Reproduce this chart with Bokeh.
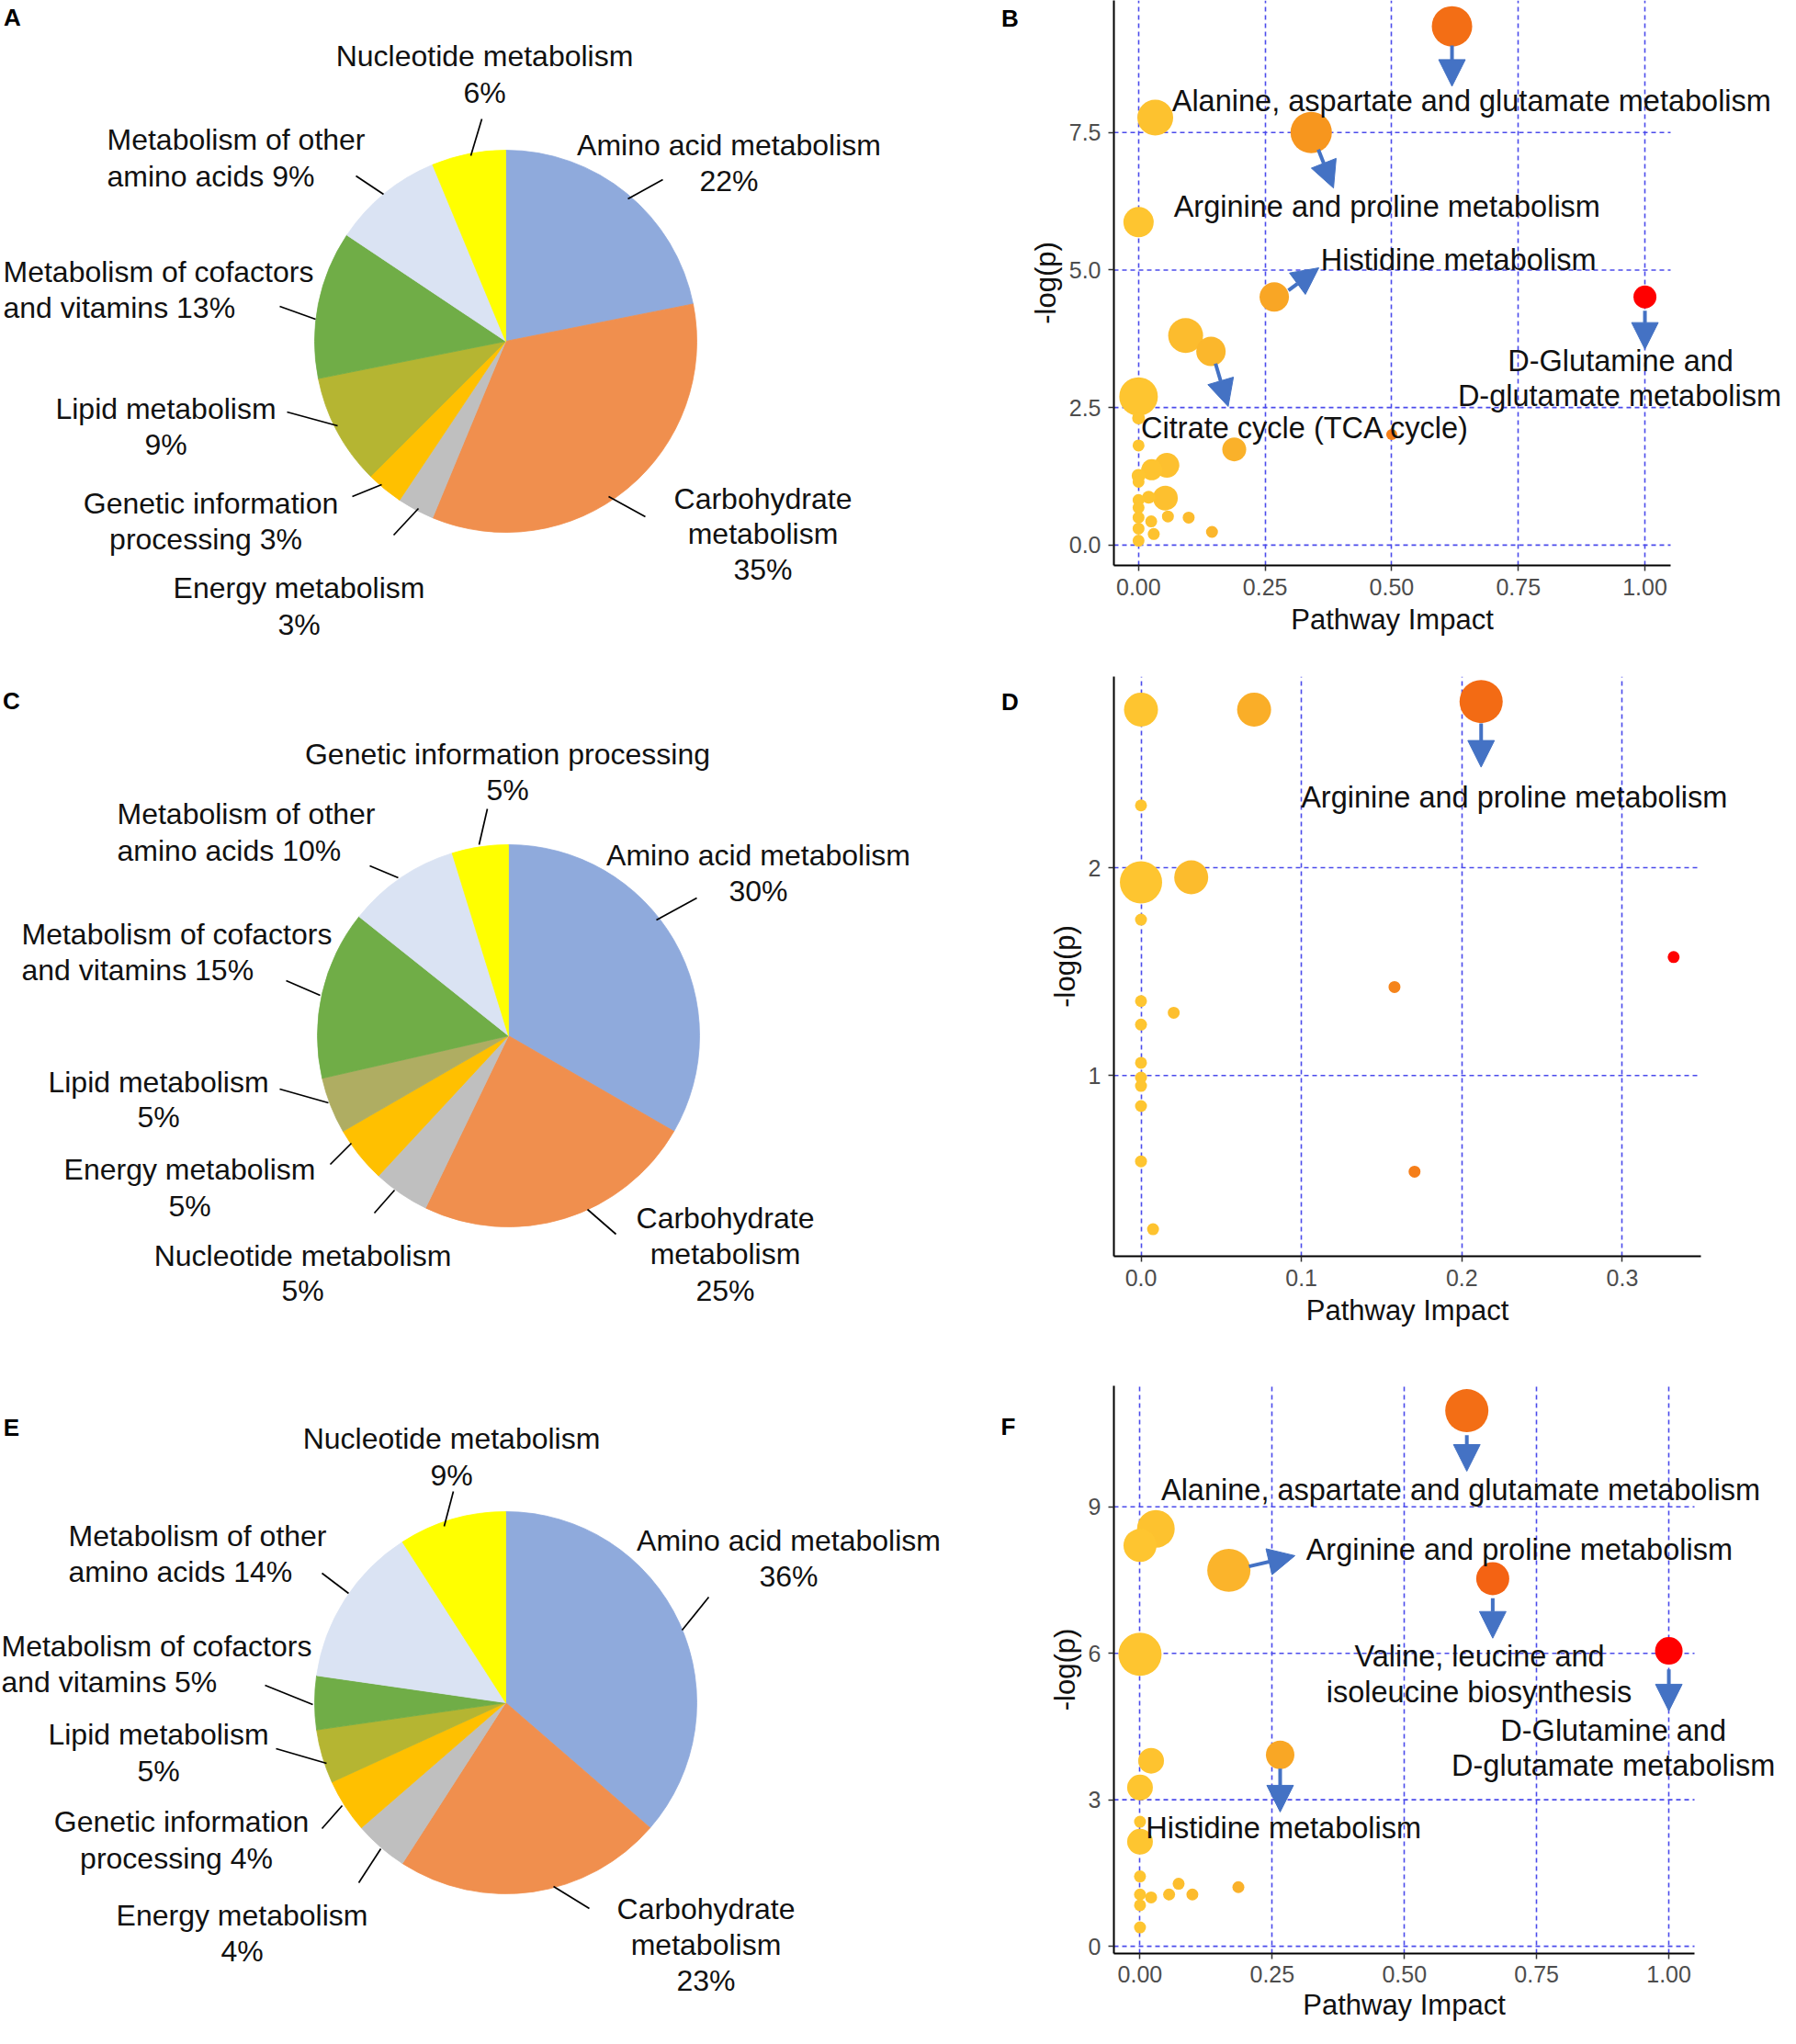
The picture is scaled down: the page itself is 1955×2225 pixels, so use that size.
import numpy as np
from bokeh.plotting import figure
from bokeh.models import (ColumnDataSource, Range1d, FixedTicker, Arrow, NormalHead,
                          Label, Title, CustomJSTickFormatter)
from bokeh.layouts import row, column
from bokeh.embed import file_html
from bokeh.resources import INLINE
from bokeh.core.properties import value
from bokeh.transform import linear_cmap

FONT = "Liberation Sans"

# ---------------- colours ----------------
BLUE = "#8FAADC"
ORANGE = "#F08F4E"
GRAY = "#BFBFBF"
AMBER = "#FFC000"
OLIVE = "#B5B532"
OLIVE2 = "#AFAD62"
GREEN = "#70AD47"
LIGHT = "#DAE3F3"
YELLOW = "#FFFF00"
ARROW_BLUE = "#4472C4"
GRID_BLUE = "#4B4BEB"

# ---------------- pie data (pathway counts per class) ----------------
pie_A_classes = ["Amino acid metabolism", "Carbohydrate metabolism", "Energy metabolism",
                 "Genetic information processing", "Lipid metabolism",
                 "Metabolism of cofactors and vitamins", "Metabolism of other amino acids",
                 "Nucleotide metabolism"]
pie_A_counts = [7, 11, 1, 1, 3, 4, 3, 2]
pie_A_colors = [BLUE, ORANGE, GRAY, AMBER, OLIVE, GREEN, LIGHT, YELLOW]

pie_C_classes = ["Amino acid metabolism", "Carbohydrate metabolism", "Nucleotide metabolism",
                 "Energy metabolism", "Lipid metabolism",
                 "Metabolism of cofactors and vitamins", "Metabolism of other amino acids",
                 "Genetic information processing"]
pie_C_counts = [7, 5, 1, 1, 1, 3, 2, 1]
pie_C_colors = [BLUE, ORANGE, GRAY, AMBER, OLIVE2, GREEN, LIGHT, YELLOW]

pie_E_classes = ["Amino acid metabolism", "Carbohydrate metabolism", "Energy metabolism",
                 "Genetic information processing", "Lipid metabolism",
                 "Metabolism of cofactors and vitamins", "Metabolism of other amino acids",
                 "Nucleotide metabolism"]
pie_E_counts = [8, 5, 1, 1, 1, 1, 3, 2]
pie_E_colors = [BLUE, ORANGE, GRAY, AMBER, OLIVE, GREEN, LIGHT, YELLOW]

# pie label lines: (text, x, y, align) in page pixels
pie_A_text = [
    ("Nucleotide metabolism", 535, 68, "center"), ("6%", 535, 108, "center"),
    ("Amino acid metabolism", 801, 165, "center"), ("22%", 801, 204, "center"),
    ("Metabolism of other", 124, 159, "left"), ("amino acids  9%", 124, 199, "left"),
    ("Metabolism of cofactors", 11, 303, "left"), ("and vitamins  13%", 11, 342, "left"),
    ("Lipid metabolism", 188, 452, "center"), ("9%", 188, 491, "center"),
    ("Genetic information", 237, 555, "center"), ("processing  3%", 236, 594, "center"),
    ("Energy metabolism", 333, 647, "center"), ("3%", 333, 687, "center"),
    ("Carbohydrate", 838, 550, "center"), ("metabolism", 838, 588, "center"), ("35%", 838, 627, "center"),
]
pie_C_text = [
    ("Genetic information processing", 560, 828, "center"), ("5%", 560, 867, "center"),
    ("Amino acid metabolism", 833, 938, "center"), ("30%", 833, 977, "center"),
    ("Metabolism of other", 135, 893, "left"), ("amino acids  10%", 135, 933, "left"),
    ("Metabolism of cofactors", 31, 1024, "left"), ("and vitamins  15%", 31, 1063, "left"),
    ("Lipid metabolism", 180, 1185, "center"), ("5%", 180, 1223, "center"),
    ("Energy metabolism", 214, 1280, "center"), ("5%", 214, 1320, "center"),
    ("Nucleotide metabolism", 337, 1374, "center"), ("5%", 337, 1412, "center"),
    ("Carbohydrate", 797, 1333, "center"), ("metabolism", 797, 1372, "center"), ("25%", 797, 1412, "center"),
]
pie_E_text = [
    ("Nucleotide metabolism", 499, 1573, "center"), ("9%", 499, 1613, "center"),
    ("Amino acid metabolism", 866, 1684, "center"), ("36%", 866, 1723, "center"),
    ("Metabolism of other", 82, 1679, "left"), ("amino acids  14%", 82, 1718, "left"),
    ("Metabolism of cofactors", 9, 1799, "left"), ("and vitamins  5%", 9, 1838, "left"),
    ("Lipid metabolism", 180, 1895, "center"), ("5%", 180, 1935, "center"),
    ("Genetic information", 205, 1990, "center"), ("processing  4%", 204, 2030, "center"),
    ("Energy metabolism", 271, 2092, "center"), ("4%", 271, 2131, "center"),
    ("Carbohydrate", 776, 2085, "center"), ("metabolism", 776, 2124, "center"), ("23%", 776, 2163, "center"),
]
# leader lines (x0, y0, x1, y1) in page pixels
pie_A_leaders = [(532, 137, 520, 177), (729, 203, 691, 224), (395, 199, 425, 219),
                 (312, 341, 351, 355), (320, 456, 375, 471), (391, 548, 423, 535),
                 (436, 590, 463, 561), (670, 548, 710, 570)]
pie_C_leaders = [(538, 888, 529, 927), (766, 985, 722, 1009), (410, 950, 441, 963),
                 (319, 1075, 356, 1091), (312, 1193, 365, 1208), (367, 1275, 390, 1252),
                 (415, 1328, 437, 1303), (647, 1324, 678, 1351)]
pie_E_leaders = [(501, 1631, 491, 1669), (779, 1746, 750, 1782), (358, 1720, 387, 1742),
                 (296, 1842, 348, 1863), (308, 1911, 363, 1927), (358, 1998, 380, 1973),
                 (398, 2057, 422, 2020), (610, 2061, 649, 2085)]
pie_centers = {"A": (558, 379), "C": (561, 1135), "E": (558, 1861)}
PIE_R = 208

# panel letters (text, x, y) in page pixels
panel_letters = [("A", 21, 26), ("C", 20, 770), ("E", 20, 1561),
                 ("B", 1107, 27), ("D", 1107, 771), ("F", 1105, 1560)]

# ---------------- pathway impact data ----------------
B_impact = [0.619, 0.033, 0.341, 0.0, 0.268, 1.0, 0.093, 0.143, 0.0, 0.0, 0.5, 0.189, 0.0,
            0.056, 0.026, 0.0, 0.0, 0.053, 0.02, 0.0, 0.0, 0.0, 0.058, 0.099, 0.025, 0.0,
            0.03, 0.145, 0.0]
B_logp = [9.43, 7.77, 7.50, 5.87, 4.51, 4.51, 3.81, 3.52, 2.70, 2.31, 2.01, 1.74, 1.81,
          1.45, 1.37, 1.26, 1.15, 0.855, 0.87, 0.82, 0.68, 0.50, 0.52, 0.50, 0.43, 0.30,
          0.20, 0.24, 0.08]
B_size = [44, 39, 45, 33, 32, 25, 38, 32, 42, 14, 12, 26, 13, 27, 23, 15, 13, 27, 14, 13,
          13, 13, 13, 13, 13, 13, 13, 13, 13]

D_impact = [0.0, 0.0705, 0.212, 0.0, 0.0, 0.0313, 0.0, 0.332, 0.158, 0.0, 0.0204, 0.0,
            0.0, 0.0, 0.0, 0.0, 0.0, 0.1705, 0.0075]
D_logp = [2.761, 2.761, 2.80, 2.30, 1.93, 1.954, 1.75, 1.57, 1.426, 1.358, 1.302, 1.245,
          1.061, 0.99, 0.95, 0.853, 0.587, 0.537, 0.26]
D_size = [37, 37, 47, 13, 46, 37, 13, 13, 13, 13, 13, 13, 13, 13, 13, 13, 13, 13, 13]

F_impact = [0.618, 0.030, 0.0, 0.168, 0.667, 1.0, 0.0, 0.265, 0.021, 0.0, 0.0, 0.0, 0.0,
            0.0, 0.0, 0.021, 0.055, 0.073, 0.099, 0.186, 0.0]
F_logp = [10.97, 8.55, 8.21, 7.70, 7.53, 6.05, 5.98, 3.92, 3.80, 3.25, 2.55, 2.14, 1.43,
          1.06, 0.84, 1.00, 1.06, 1.28, 1.06, 1.21, 0.385]
F_size = [47, 41, 36, 47, 36, 30, 47, 31, 28, 28, 13, 28, 13, 13, 13, 13, 13, 13, 13, 13, 13]

B_xticks, B_xlabels = [0, 0.25, 0.5, 0.75, 1.0], ["0.00", "0.25", "0.50", "0.75", "1.00"]
B_yticks, B_ylabels = [0, 2.5, 5.0, 7.5], ["0.0", "2.5", "5.0", "7.5"]
D_xticks, D_xlabels = [0, 0.1, 0.2, 0.3], ["0.0", "0.1", "0.2", "0.3"]
D_yticks, D_ylabels = [1, 2], ["1", "2"]
F_xticks, F_xlabels = [0, 0.25, 0.5, 0.75, 1.0], ["0.00", "0.25", "0.50", "0.75", "1.00"]
F_yticks, F_ylabels = [0, 3, 6, 9], ["0", "3", "6", "9"]
X_TITLE = "Pathway Impact"
Y_TITLE = "-log(p)"

# annotations in data units: (text, x, y, align)
B_notes = [("Alanine, aspartate and glutamate metabolism", 0.066, 8.07, "left"),
           ("Arginine and proline metabolism", 0.0695, 6.15, "left"),
           ("Histidine metabolism", 0.36, 5.19, "left"),
           ("D-Glutamine and", 0.952, 3.34, "center"),
           ("D-glutamate metabolism", 0.950, 2.71, "center"),
           ("Citrate cycle (TCA cycle)", 0.005, 2.13, "left")]
B_arrows = [(0.619, 9.08, 0.619, 8.34), (0.355, 7.19, 0.385, 6.49), (0.296, 4.63, 0.356, 5.04),
            (1.0, 4.26, 1.0, 3.56), (0.152, 3.30, 0.177, 2.52)]
D_notes = [("Arginine and proline metabolism", 0.0997, 2.34, "left")]
D_arrows = [(0.212, 2.694, 0.212, 2.484)]
F_notes = [("Alanine, aspartate and glutamate metabolism", 0.04, 9.35, "left"),
           ("Arginine and  proline metabolism", 0.314, 8.13, "left"),
           ("Valine, leucine and", 0.642, 5.94, "center"),
           ("isoleucine biosynthesis", 0.641, 5.20, "center"),
           ("D-Glutamine and", 0.895, 4.41, "center"),
           ("D-glutamate metabolism", 0.895, 3.69, "center"),
           ("Histidine metabolism", 0.011, 2.42, "left")]
F_arrows = [(0.618, 10.47, 0.618, 9.73), (0.206, 7.78, 0.293, 8.0), (0.667, 7.13, 0.667, 6.31),
            (1.0, 5.67, 1.0, 4.82), (0.265, 3.64, 0.265, 2.75)]

# colour scale for impact (low = gold, high = red)
stops_t = [0.0, 0.15, 0.27, 0.34, 0.5, 0.64, 1.0]
stops_rgb = [(254, 197, 48), (251, 182, 44), (249, 166, 37), (247, 150, 30),
             (245, 128, 26), (243, 107, 20), (255, 0, 0)]
_tt = np.linspace(0, 1, 256)
PALETTE = []
for t in _tt:
    r = np.interp(t, stops_t, [c[0] for c in stops_rgb])
    g = np.interp(t, stops_t, [c[1] for c in stops_rgb])
    b = np.interp(t, stops_t, [c[2] for c in stops_rgb])
    PALETTE.append("#%02x%02x%02x" % (int(round(r)), int(round(g)), int(round(b))))

# ---------------- page geometry (page pixels incl. 8px margin) ----------------
PAGE_TOP = 8
PAGE_BOTTOM = 2216
LEFT_X0, SPLIT_X = 8, 1120
RIGHT_X1 = 1947
X_TITLE_SIZE = 31
X_TITLE_HALF_WIDTH = 0.5 * 7.114 * X_TITLE_SIZE   # Arial/Liberation advance widths

# ---------------- left figure with pies ----------------
left = figure(width=SPLIT_X - LEFT_X0, height=PAGE_BOTTOM - PAGE_TOP,
              x_range=Range1d(LEFT_X0, SPLIT_X), y_range=Range1d(0, PAGE_BOTTOM - PAGE_TOP),
              output_backend="svg", toolbar_location=None, min_border=0,
              x_axis_type=None, y_axis_type=None)
left.outline_line_color = None
left.background_fill_color = "white"


def PY(oy):
    return PAGE_BOTTOM - oy


def draw_pie(key, counts, colors, texts, leaders):
    cx, cy = pie_centers[key]
    fr = np.array(counts, dtype=float) / sum(counts)
    cum = np.concatenate([[0.0], np.cumsum(fr)])
    start = list(np.pi / 2 - 2 * np.pi * cum[:-1])
    end = list(np.pi / 2 - 2 * np.pi * cum[1:])
    n = len(counts)
    src = ColumnDataSource(dict(x=[cx] * n, y=[PY(cy)] * n, s=start, e=end, c=colors))
    left.wedge(x="x", y="y", radius=PIE_R, start_angle="s", end_angle="e", direction="clock",
               fill_color="c", line_color="c", line_width=0.8, source=src)
    left.segment(x0=[l[0] for l in leaders], y0=[PY(l[1]) for l in leaders],
                 x1=[l[2] for l in leaders], y1=[PY(l[3]) for l in leaders],
                 line_color="black", line_width=1.7)
    for al in ("left", "center"):
        sel = [t for t in texts if t[3] == al]
        left.text(x=[t[1] for t in sel], y=[PY(t[2]) for t in sel], text=[t[0] for t in sel],
                  text_align=al, text_baseline="middle", text_font=value(FONT),
                  text_font_size="32px", text_color="#111111")


draw_pie("A", pie_A_counts, pie_A_colors, pie_A_text, pie_A_leaders)
draw_pie("C", pie_C_counts, pie_C_colors, pie_C_text, pie_C_leaders)
draw_pie("E", pie_E_counts, pie_E_colors, pie_E_text, pie_E_leaders)

left.text(x=[l[1] for l in panel_letters], y=[PY(l[2]) for l in panel_letters],
          text=[l[0] for l in panel_letters],
          text_align="center", text_baseline="middle", text_font=value(FONT),
          text_font_size="26px", text_font_style="bold", text_color="black")


# ---------------- scatter panels ----------------
def tick_fmt(tk, lb):
    return CustomJSTickFormatter(args=dict(tvals=tk, tlabs=lb), code="""
        for (let i = 0; i < tvals.length; i++) {
            if (Math.abs(tvals[i] - tick) < 1e-9) { return tlabs[i]; }
        }
        return '';
    """)


def scatter_panel(frame, xr, yr, fig_top, fig_bottom, xs, ys, sizes,
                  xticks, xlabels, yticks, ylabels, notes, arrows, x_standoffs):
    L, R, T, Bt = frame
    # the frame is widened to the page edge so long labels are not cut;
    # the axis line and horizontal grid stop at the panel's own right edge
    x_end = xr[0] + (RIGHT_X1 - L) / (R - L) * (xr[1] - xr[0])
    p = figure(width=RIGHT_X1 - SPLIT_X, height=fig_bottom - fig_top,
               x_range=Range1d(xr[0], x_end), y_range=Range1d(*yr),
               output_backend="svg", toolbar_location=None,
               min_border_left=L - SPLIT_X, min_border_right=0,
               min_border_top=T - fig_top, min_border_bottom=fig_bottom - Bt)
    p.outline_line_color = None
    for ax, tk, lb in ((p.xaxis[0], xticks, xlabels), (p.yaxis[0], yticks, ylabels)):
        ax.ticker = FixedTicker(ticks=tk)
        ax.formatter = tick_fmt(tk, lb)
        ax.axis_line_color = "black"
        ax.axis_line_width = 2
        ax.major_tick_line_color = "#333333"
        ax.major_tick_line_width = 1.5
        ax.major_tick_in = 0
        ax.major_tick_out = 6
        ax.minor_tick_line_color = None
        ax.major_label_text_font = FONT
        ax.major_label_text_font_size = "25px"
        ax.major_label_text_color = "#4D4D4D"
        ax.axis_label_text_font = FONT
        ax.axis_label_text_font_size = "%dpx" % X_TITLE_SIZE
        ax.axis_label_text_font_style = "normal"
        ax.axis_label_text_color = "#111111"
    p.xaxis.bounds = (xr[0], xr[1])
    p.yaxis.axis_label = Y_TITLE
    p.xaxis.major_label_standoff = x_standoffs[0]
    p.yaxis.major_label_standoff = 8
    p.yaxis.axis_label_standoff = 5
    # x title centred under the panel's own width (right-anchored to the page edge)
    centre_px = 0.5 * (L + R)
    p.add_layout(Title(text=X_TITLE, align="right",
                       offset=RIGHT_X1 - (centre_px + X_TITLE_HALF_WIDTH),
                       text_font=FONT, text_font_size="%dpx" % X_TITLE_SIZE,
                       text_font_style="normal", text_color="#111111",
                       standoff=x_standoffs[1]), "below")
    p.xgrid.grid_line_color = GRID_BLUE
    p.xgrid.grid_line_dash = "5 4"
    p.xgrid.grid_line_width = 1.6
    p.ygrid.visible = False
    n = len(yticks)
    p.segment(x0=[xr[0]] * n, y0=yticks, x1=[xr[1]] * n, y1=yticks,
              line_color=GRID_BLUE, line_dash="5 4", line_width=1.6)
    mx = max(xs)
    src = ColumnDataSource(dict(x=xs, y=ys, size=sizes, c=[v / mx for v in xs]))
    p.scatter("x", "y", size="size", source=src, line_color=None,
              fill_color=linear_cmap("c", PALETTE, 0, 1))
    for (x0, y0, x1, y1) in arrows:
        p.add_layout(Arrow(end=NormalHead(size=29, fill_color=ARROW_BLUE, line_color=ARROW_BLUE,
                                          line_width=1),
                           x_start=x0, y_start=y0, x_end=x1, y_end=y1,
                           line_color=ARROW_BLUE, line_width=4))
    for (txt, x, y, al) in notes:
        p.add_layout(Label(x=x, y=y, text=txt, text_align=al, text_baseline="middle",
                           text_font=FONT, text_font_size="32.5px", text_color="#111111"))
    return p


pB = scatter_panel((1220, 1826, 8, 623), (-0.0487, 1.0507), (-0.37, 9.90), 8, 740,
                   B_impact, B_logp, B_size, B_xticks, B_xlabels, B_yticks, B_ylabels,
                   B_notes, B_arrows, (8, 8))
pD = scatter_panel((1220, 1859, 744, 1375), (-0.0169, 0.349), (0.13, 2.92), 740, 1500,
                   D_impact, D_logp, D_size, D_xticks, D_xlabels, D_yticks, D_ylabels,
                   D_notes, D_arrows, (8, 8))
pF = scatter_panel((1220, 1852, 1516, 2134), (-0.0494, 1.0485), (-0.149, 11.48), 1500, PAGE_BOTTOM,
                   F_impact, F_logp, F_size, F_xticks, F_xlabels, F_yticks, F_ylabels,
                   F_notes, F_arrows, (7, 4))

layout = row(left, column(pB, pD, pF, spacing=0), spacing=0)
open("out.html", "w").write(file_html(layout, INLINE, title="Pathway classes and impact"))
